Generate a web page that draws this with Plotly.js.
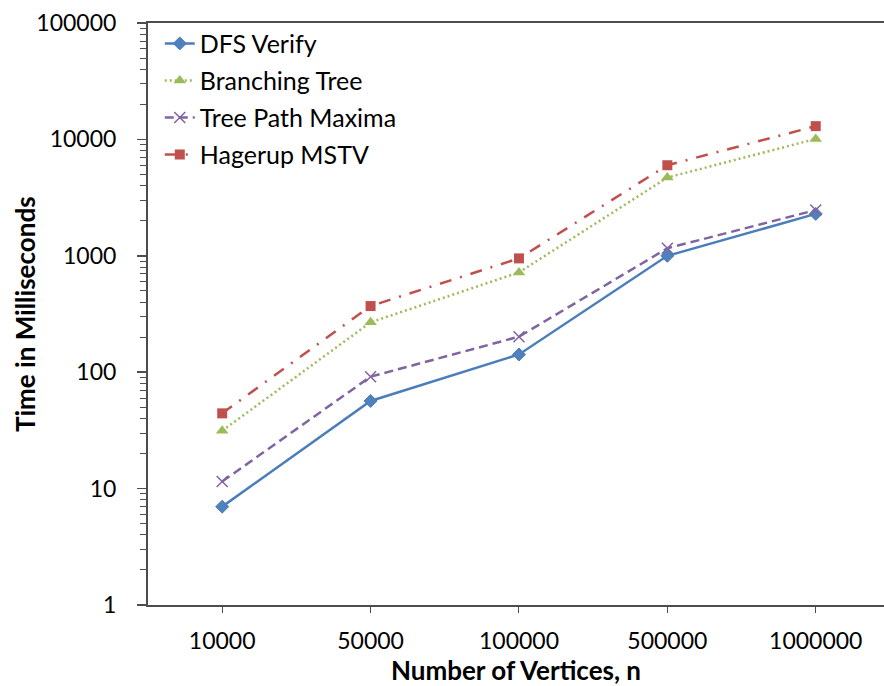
<!DOCTYPE html>
<html>
<head>
<meta charset="utf-8">
<script src="https://cdn.plot.ly/plotly-3.0.1.min.js"></script>
<style>html,body{margin:0;padding:0;background:#fff;}#chart{width:884px;height:686px;}</style>
</head>
<body>
<div id="chart"></div>
<script>
const categories = ["10000", "50000", "100000", "500000", "1000000"];
const dfsVerify = [7.0, 56.6, 142, 1000, 2290];
const branchingTree = [31.4, 268, 720, 4700, 10100];
const treePathMaxima = [11.5, 91.5, 202, 1160, 2470];
const hagerupMSTV = [44.3, 370, 950, 6000, 13000];
const seriesNames = ["DFS Verify", "Branching Tree", "Tree Path Maxima", "Hagerup MSTV"];
const yTickVals = [1, 10, 100, 1000, 10000, 100000];
const yTickText = ["1", "10", "100", "1000", "10000", "100000"];

const font = "Lato, 'Open Sans', sans-serif";

const traces = [
  {x: categories, y: dfsVerify, name: seriesNames[0], mode: "lines+markers",
   line: {color: "#4A7EBB", width: 2.5},
   marker: {symbol: "diamond", size: 10, color: "#4F81BD", line: {color: "#4A7EBB", width: 1}}},
  {x: categories, y: branchingTree, name: seriesNames[1], mode: "lines+markers",
   line: {color: "#9BBB59", width: 2.5, dash: "2px,3px"},
   marker: {symbol: "triangle-up", size: 11, color: "#9BBB59"}},
  {x: categories, y: treePathMaxima, name: seriesNames[2], mode: "lines+markers",
   line: {color: "#8064A2", width: 2.5, dash: "9px,5px"},
   marker: {symbol: "x-thin-open", size: 11, color: "#8064A2", line: {color: "#8064A2", width: 1.5}}},
  {x: categories, y: hagerupMSTV, name: seriesNames[3], mode: "lines+markers",
   line: {color: "#C0504D", width: 2.5, dash: "12px,9px,2px,9px"},
   marker: {symbol: "square", size: 10, color: "#C0504D"}}
];
traces.forEach((t, i) => { t.legendgroup = "g" + i; });

const layout = {
  width: 884, height: 686,
  margin: {l: 148, r: 0, t: 23, b: 81, pad: 0},
  paper_bgcolor: "#ffffff", plot_bgcolor: "#ffffff",
  font: {family: font, size: 23, color: "#000"},
  showlegend: true,
  legend: {x: 0.016, y: 1.004, xanchor: "left", yanchor: "top", bgcolor: "rgba(0,0,0,0)",
           font: {family: font, size: 25, color: "#000"}, traceorder: "grouped", tracegroupgap: 1.5,
           itemwidth: 30},
  xaxis: {
    type: "category", range: [-0.5, 4.46], showgrid: false, zeroline: false,
    showline: true, linecolor: "#4D4D4D", linewidth: 2, mirror: true,
    ticks: "outside", ticklen: 6, tickwidth: 1, tickcolor: "#4D4D4D",
    tickfont: {family: font, size: 23, color: "#000"}, ticklabelstandoff: 8,
    title: {text: "<b>Number of Vertices, n</b>", font: {family: font, size: 26, color: "#000"}, standoff: 2}
  },
  yaxis: {
    type: "log", range: [0, 5], showgrid: false, zeroline: false,
    showline: true, linecolor: "#4D4D4D", linewidth: 2,
    tickvals: yTickVals, ticktext: yTickText,
    ticks: "outside", ticklen: 9, tickwidth: 1.5, tickcolor: "#4D4D4D",
    minor: {ticks: "outside", ticklen: 6, tickwidth: 1, tickcolor: "#4D4D4D", dtick: "D1", showgrid: false},
    tickfont: {family: font, size: 23, color: "#000"}, ticklabelstandoff: 16
  },
  annotations: [{
    text: "<b>Time in Milliseconds</b>", textangle: -90, showarrow: false,
    xref: "paper", yref: "paper", x: -123 / 736, y: 0.5, xanchor: "center", yanchor: "middle",
    font: {family: font, size: 26, color: "#000"}
  }]
};

Plotly.newPlot("chart", traces, layout, {staticPlot: true, displayModeBar: false});
</script>
</body>
</html>
